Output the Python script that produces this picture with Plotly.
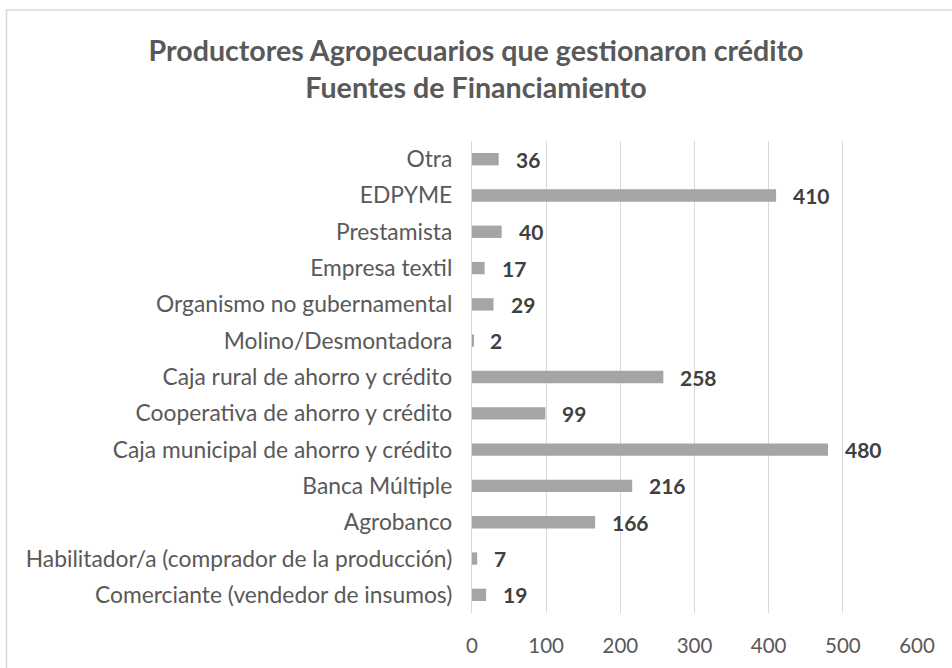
import plotly.graph_objects as go

categories = [
    "Comerciante (vendedor de insumos)",
    "Habilitador/a (comprador de la producción)",
    "Agrobanco",
    "Banca Múltiple",
    "Caja municipal de ahorro y crédito",
    "Cooperativa de ahorro y crédito",
    "Caja rural de ahorro y crédito",
    "Molino/Desmontadora",
    "Organismo no gubernamental",
    "Empresa textil",
    "Prestamista",
    "EDPYME",
    "Otra",
]
values = [19, 7, 166, 216, 480, 99, 258, 2, 29, 17, 40, 410, 36]
tick_vals = [0, 100, 200, 300, 400, 500, 600]

FONT = "Lato"
W, H = 952, 668
L, R, T, B = 472, 35, 141, 55
PW, PH = W - L - R, H - T - B

fig = go.Figure()
fig.add_trace(go.Bar(
    x=values, y=categories, orientation="h",
    marker=dict(color="#A5A5A5", line=dict(width=0)),
    width=0.34,
    hoverinfo="skip",
))
for c, v in zip(categories, values):
    fig.add_annotation(x=v, y=c, text=f"<b>{v}</b>", showarrow=False,
                       xanchor="left", xshift=15, yshift=0,
                       font=dict(family=FONT, size=21, color="#404040"))

fig.update_layout(
    width=W, height=H,
    paper_bgcolor="white", plot_bgcolor="white",
    margin=dict(l=L, r=R, t=T, b=B, autoexpand=False),
    title=dict(text="<b>Productores Agropecuarios que gestionaron crédito<br>Fuentes de Financiamiento</b>",
               x=0.5, xanchor="center", xref="container",
               y=1 - 61 / H, yanchor="middle", yref="container",
               font=dict(family=FONT, size=28.6, color="#595959")),
    showlegend=False,
    xaxis=dict(range=[0, 600], tickvals=tick_vals, showgrid=True, gridcolor="#D9D9D9",
               gridwidth=1.3, zeroline=False, showline=False, ticks="",
               tickfont=dict(family=FONT, size=20.5, color="#595959"), ticklabelstandoff=18),
    yaxis=dict(categoryorder="array", categoryarray=categories, showgrid=False,
               showline=True, linecolor="#D9D9D9", linewidth=1.3, ticks="",
               tickfont=dict(family=FONT, size=22.8, color="#595959"), ticklabelstandoff=14),
    shapes=[dict(type="rect", xref="paper", yref="paper",
                 x0=(6.5 - L) / PW, x1=(W + 20 - L) / PW,
                 y0=-(H + 20 - (H - B)) / PH, y1=1 + (T - 10) / PH,
                 line=dict(color="#D9D9D9", width=1.5), fillcolor="rgba(0,0,0,0)", layer="below")],
)
fig.write_html("out.html", config={"displayModeBar": False},
               post_script="document.body.style.margin='0';document.body.style.overflow='hidden';")
